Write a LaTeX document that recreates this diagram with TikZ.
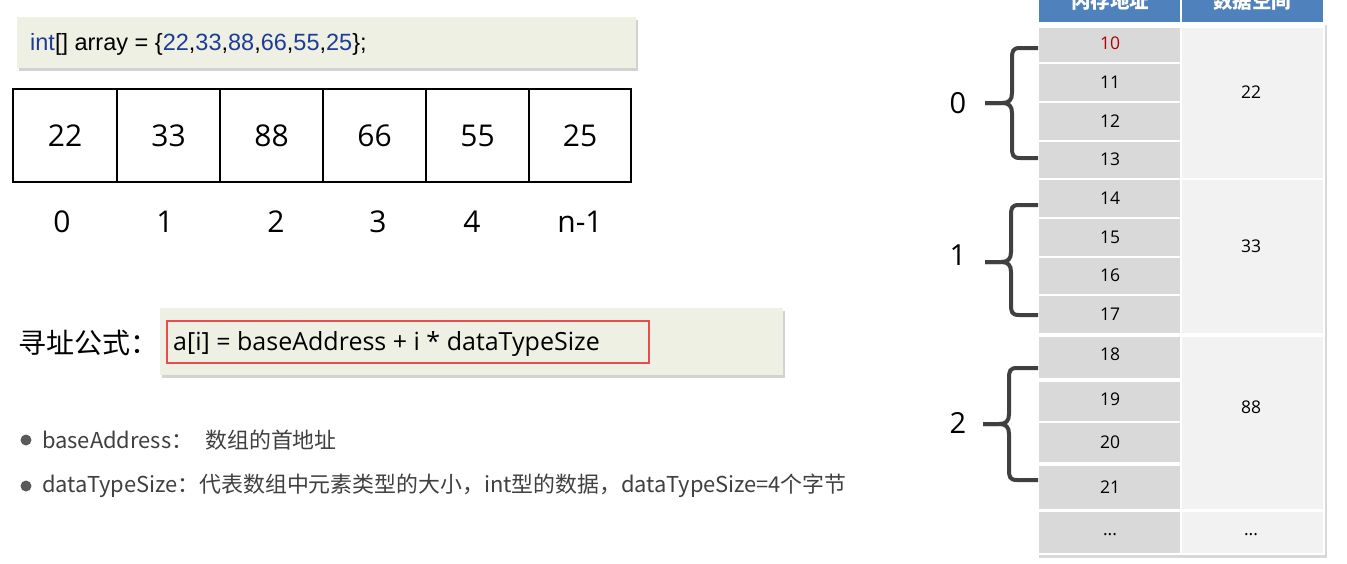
\documentclass[tikz,border=0pt]{standalone}
\usepackage{fontspec}
\setmainfont{Open Sans}
\newfontfamily\cjk{Noto Sans CJK SC}
\newfontfamily\codefont{Liberation Sans}
\usetikzlibrary{shadows}
\definecolor{boxgreen}{RGB}{237,240,226}
\definecolor{codeblue}{RGB}{30,60,150}
\definecolor{fred}{RGB}{232,76,76}
\definecolor{txtgray}{RGB}{64,64,64}
\definecolor{dotgray}{RGB}{90,90,90}
\definecolor{hdrblue}{RGB}{79,129,189}
\definecolor{cellgray}{RGB}{217,217,217}
\definecolor{celllight}{RGB}{242,242,242}
\definecolor{addrred}{RGB}{180,0,0}
\definecolor{bracegray}{RGB}{64,64,64}
\newcommand\memBrace[5]{%
  \draw[bracestyle] (1038,#1) -- ({#4+8},#1) .. controls ({#4+1},#1) and (#4,{#1+3}) .. (#4,{#1+10})
    -- (#4,{#3-10}) .. controls (#4,{#3-3}) and ({#4-3},#3) .. ({#4-10},#3) -- (#5,#3);
  \draw[bracestyle] (#5,#3) -- ({#4-10},#3) .. controls ({#4-3},#3) and (#4,{#3+3}) .. (#4,{#3+10})
    -- (#4,{#2-10}) .. controls (#4,{#2-3}) and ({#4+1},#2) .. ({#4+8},#2) -- (1038,#2);
}
\begin{document}
\begin{tikzpicture}[x=1pt,y=-1pt,
  greenbox/.style={fill=boxgreen, drop shadow={opacity=0.35, shadow xshift=2pt, shadow yshift=-3pt}},
  cellbox/.style={draw=black, line width=1.8pt, inner sep=0pt, font=\fontsize{30}{34}\selectfont},
  idx/.style={inner sep=0pt, font=\fontsize{30}{34}\selectfont},
  bullettxt/.style={anchor=west, inner sep=0pt, text=txtgray, font=\cjk\fontsize{21.9}{26}\selectfont},
  celltext/.style={inner sep=0pt, font=\fontsize{17.5}{20}\selectfont},
  bracestyle/.style={draw=bracegray, line width=4pt},
  bracelabel/.style={inner sep=0pt, font=\fontsize{29}{32}\selectfont},
  hdr/.style={fill=hdrblue},
  hdrtext/.style={inner sep=0pt, text=white, font=\cjk\bfseries\fontsize{19.5}{22}\selectfont}
]
\useasboundingbox (0,0) rectangle (1347,563);
\fill[white] (0,0) rectangle (1347,563);

% code line
\path[greenbox] (17,17) rectangle (636,68);
\node[anchor=west, inner sep=0pt, font=\codefont\fontsize{23.5}{27}\selectfont] (code) at (30,44)
  {\textcolor{codeblue}{int}[] array = \{\textcolor{codeblue}{22},\textcolor{codeblue}{33},\textcolor{codeblue}{88},\textcolor{codeblue}{66},\textcolor{codeblue}{55},\textcolor{codeblue}{25}\};};

% array cells
\node[cellbox, minimum width=104, minimum height=93] (c1) at (65,135.5) {22};
\node[cellbox, minimum width=103, minimum height=93] (c2) at (168.5,135.5) {33};
\node[cellbox, minimum width=103, minimum height=93] (c3) at (271.5,135.5) {88};
\node[cellbox, minimum width=103, minimum height=93] (c4) at (374.5,135.5) {66};
\node[cellbox, minimum width=103, minimum height=93] (c5) at (477.5,135.5) {55};
\node[cellbox, minimum width=102, minimum height=93] (c6) at (580,135.5) {25};

% indices
\node[idx] (i0) at (62,222) {0};
\node[idx] (i1) at (165,222) {1};
\node[idx] (i2) at (276,222) {2};
\node[idx] (i3) at (378,222) {3};
\node[idx] (i4) at (472,222) {4};
\node[idx] (i5) at (580,222) {n-1};

% formula
\node[anchor=west, inner sep=0pt, font=\cjk\fontsize{28}{32}\selectfont] (flabel) at (18,343) {寻址公式：};
\path[greenbox] (160,308) rectangle (783,375);
\draw[fred, line width=2.5pt] (167,321) rectangle (649,363);
\node[anchor=west, inner sep=0pt, font=\fontsize{25}{30}\selectfont] (formula) at (173,344) {a[i] = baseAddress + i * dataTypeSize};

% bullets
\fill[dotgray] (26,440) circle (5.5);
\node[bullettxt] (b1) at (42,440) {baseAddress：\hspace{12pt}数组的首地址};
\fill[dotgray] (26,486) circle (5.5);
\node[bullettxt] (b2) at (42,486) {dataTypeSize：代表数组中元素类型的大小，int型的数据，dataTypeSize=4个字节};

% table
\fill[white, drop shadow={opacity=0.3, shadow xshift=1.5pt, shadow yshift=-2.5pt}] (1037,22) rectangle (1325,555);
\begin{scope}
\clip (0,0) rectangle (1347,563);
\fill[hdr] (1039,-20) rectangle (1180,22);
\fill[hdr] (1182,-20) rectangle (1323,22);
\node[hdrtext] (h1) at (1110,1) {内存地址};
\node[hdrtext] (h2) at (1252,1) {数据空间};
\end{scope}

\foreach \t/\b in {28/62,64/101,103/140,142/178,180/217,219/256,258/294,296/333,337/378,382/421,423/462,466/509,512/553}{
  \fill[cellgray] (1039,\t) rectangle (1180,\b);
}
\node[celltext, text=addrred] (a10) at (1110,43) {10};
\foreach \ty/\lab in {82/11,121/12,159/13,198/14,237/15,275/16,314/17,354/18,399/19,442/20,487/21}{
  \node[celltext] (a\lab) at (1110,\ty) {\lab};
}
\node[celltext] (adots) at (1110,535) {...};

\fill[celllight] (1182,28) rectangle (1323,178);
\fill[celllight] (1182,180) rectangle (1323,333);
\fill[celllight] (1182,337) rectangle (1323,509);
\fill[celllight] (1182,512) rectangle (1323,553);
\node[celltext] (d0) at (1251,92) {22};
\node[celltext] (d1) at (1251,246) {33};
\node[celltext] (d2) at (1251,407) {88};
\node[celltext] (d3) at (1251,535) {...};

% braces
\memBrace{48}{158}{103}{1012}{985}
\memBrace{205}{315}{262}{1011}{985}
\memBrace{368}{480}{424}{1009}{983}
\node[bracelabel] (l0) at (958,103) {0};
\node[bracelabel] (l1) at (958,255) {1};
\node[bracelabel] (l2) at (958,423) {2};
\end{tikzpicture}
\end{document}
